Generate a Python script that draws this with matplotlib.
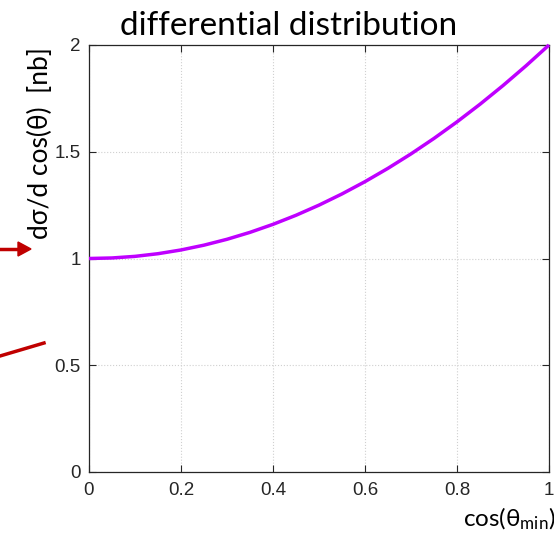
import matplotlib
matplotlib.use("Agg")
import matplotlib.pyplot as plt
from matplotlib.lines import Line2D
from matplotlib.patches import Polygon

x_vals = [0.0, 0.05, 0.1, 0.15, 0.2, 0.25, 0.3, 0.35, 0.4, 0.45, 0.5,
          0.55, 0.6, 0.65, 0.7, 0.75, 0.8, 0.85, 0.9, 0.95, 1.0]
y_vals = [1.0, 1.0025, 1.01, 1.0225, 1.04, 1.0625, 1.09, 1.1225, 1.16, 1.2025, 1.25,
          1.3025, 1.36, 1.4225, 1.49, 1.5625, 1.64, 1.7225, 1.81, 1.9025, 2.0]
x_ticks = [0, 0.2, 0.4, 0.6, 0.8, 1]
x_tick_labels = ["0", "0.2", "0.4", "0.6", "0.8", "1"]
y_ticks = [0, 0.5, 1, 1.5, 2]
y_tick_labels = ["0", "0.5", "1", "1.5", "2"]

W, H = 554, 533
fig = plt.figure(figsize=(W / 100, H / 100), dpi=100)
ax = fig.add_axes([89 / W, 1 - 472 / H, 460 / W, 427 / H])

ax.plot(x_vals, y_vals, color="#bf00ff", lw=2.5, solid_capstyle="butt", clip_on=False, zorder=3)
ax.set_xlim(0, 1)
ax.set_ylim(0, 2)
ax.set_xticks(x_ticks)
ax.set_xticklabels(x_tick_labels)
ax.set_yticks(y_ticks)
ax.set_yticklabels(y_tick_labels)
ax.tick_params(direction="in", top=True, right=True, length=5, width=0.8,
               colors="#262626", labelsize=13.5)
ax.tick_params(axis="x", pad=7)
ax.tick_params(axis="y", pad=6)
for lab in ax.get_xticklabels() + ax.get_yticklabels():
    lab.set_fontfamily("Liberation Sans")
    lab.set_color("#262626")
ax.grid(True, linestyle=":", color="#d0d0d0", lw=0.8)
for s in ax.spines.values():
    s.set_color("#262626")
    s.set_linewidth(0.9)

fig.text(289 / W, 1 - 26 / H, "differential distribution", ha="center", va="center",
         fontsize=24, family="Lato", color="black")
fig.text(40 / W, 1 - 143 / H, "d\u03c3/d cos(\u03b8)  [nb]", ha="center", va="center",
         rotation=90, fontsize=19, family="Lato", color="black")
fig.text(463 / W, 1 - 519 / H, r"cos($\mathregular{\theta_{min}}$)", ha="left", va="center",
         fontsize=17.5, family="Lato", color="black")

# red annotation marks on the left
fig.add_artist(Line2D([0 / W, 20 / W], [1 - 249 / H, 1 - 249 / H], color="#c00000", lw=2.5,
                      transform=fig.transFigure))
fig.add_artist(Polygon([[18 / W, 1 - 242 / H], [31 / W, 1 - 249 / H], [18 / W, 1 - 256 / H]],
                       closed=True, color="#c00000", transform=fig.transFigure))
fig.add_artist(Line2D([0 / W, 44 / W], [1 - 356 / H, 1 - 343 / H], color="#c00000", lw=2.5,
                      transform=fig.transFigure))

fig.savefig("out.png", dpi=100)
